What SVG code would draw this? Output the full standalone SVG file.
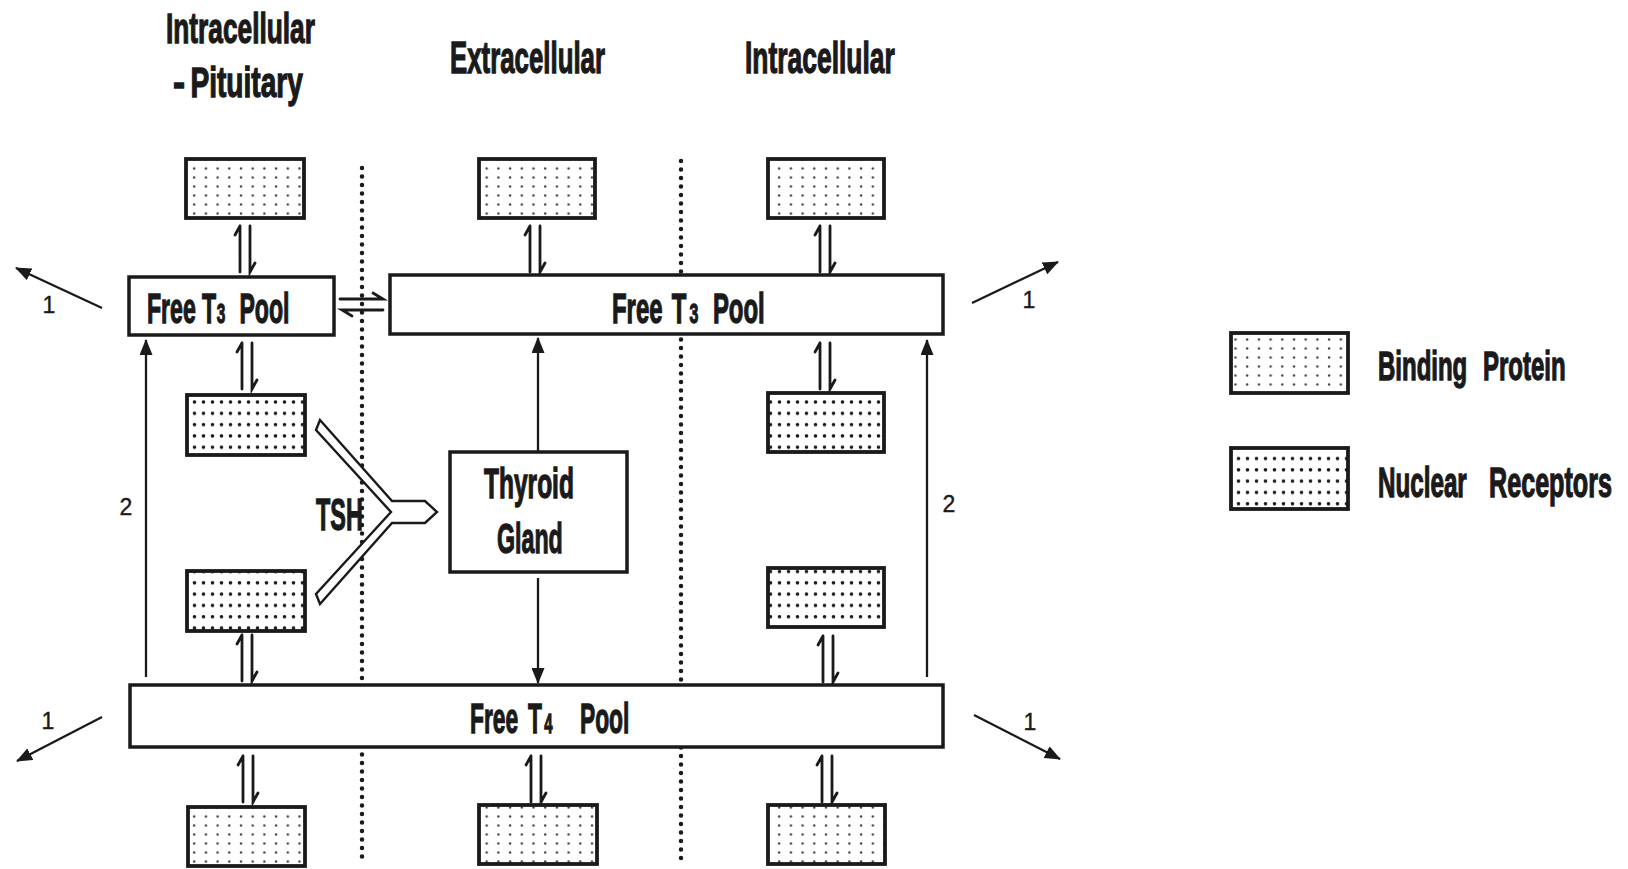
<svg xmlns="http://www.w3.org/2000/svg" xmlns:xlink="http://www.w3.org/1999/xlink" width="1628" height="869" viewBox="0 0 1628 869">
<style>
.t{font-family:"Liberation Sans",Arial,sans-serif;font-weight:bold;fill:#1a1a1a;stroke:#1a1a1a;stroke-width:1.3}
.n{font-family:"Liberation Sans",Arial,sans-serif;font-weight:normal;fill:#1a1a1a;font-size:23px;text-anchor:middle;stroke:#1a1a1a;stroke-width:0.4}
.box{fill:#fff;stroke:#1a1a1a;stroke-width:3.5}
.bp{fill:url(#bpDots);stroke:#1a1a1a;stroke-width:3.8}
.nr{fill:url(#nrDots);stroke:#1a1a1a;stroke-width:3.8}
.dot{stroke:#1a1a1a;stroke-width:4.5;stroke-linecap:round;stroke-dasharray:0 8.5;fill:none}
.ln{stroke:#1a1a1a;stroke-width:2.3;fill:none}
.eq{stroke:#1a1a1a;stroke-width:2.8;fill:none;stroke-linecap:round}
</style>
<defs>
<pattern id="bpDots" patternUnits="userSpaceOnUse" width="11.7" height="9" x="2" y="2">
<rect width="11.7" height="9" fill="#fff"/>
<circle cx="5" cy="4.5" r="1.2" fill="#444"/>
</pattern>
<pattern id="nrDots" patternUnits="userSpaceOnUse" width="9" height="11.3" x="1" y="1">
<rect width="9" height="11.3" fill="#fff"/>
<circle cx="4.5" cy="5.5" r="1.8" fill="#1a1a1a"/>
</pattern>
<marker id="ah" markerUnits="userSpaceOnUse" markerWidth="16" markerHeight="13" refX="15" refY="6.5" orient="auto">
<path d="M0,0 L16,6.5 L0,13 z" fill="#1a1a1a"/>
</marker>
<g id="eqv">
<path class="eq" d="M0,0 V46 M0,0 L-5,9 M10,0 V46 L15,37"/>
</g>
</defs>
<rect width="1628" height="869" fill="#fff"/>

<g id="boundaries">
<line class="dot" x1="362" y1="168" x2="362" y2="864"/>
<line class="dot" x1="681" y1="161" x2="681" y2="864"/>
</g>

<g id="titles">
<text class="t" font-size="42" transform="translate(166,43) scale(0.626,1)">Intracellular</text>
<text class="t" font-size="42" transform="translate(173,97) scale(0.67,1)"><tspan textLength="18" lengthAdjust="spacingAndGlyphs">-</tspan> <tspan x="26">Pituitary</tspan></text>
<text class="t" font-size="44" transform="translate(450,73) scale(0.587,1)">Extracellular</text>
<text class="t" font-size="44" transform="translate(745,73) scale(0.601,1)">Intracellular</text>
</g>

<g id="connectors">
<use href="#eqv" x="240" y="226"/>
<use href="#eqv" x="242" y="343"/>
<use href="#eqv" x="242" y="635"/>
<use href="#eqv" x="243" y="756"/>
<use href="#eqv" x="530" y="226"/>
<use href="#eqv" x="531" y="756"/>
<use href="#eqv" x="820" y="226"/>
<use href="#eqv" x="820" y="343"/>
<use href="#eqv" x="823" y="636"/>
<use href="#eqv" x="822" y="756"/>
<path class="eq" d="M340,299 H383 L373,293 M383,310 H342 L352,316"/>
<line class="ln" x1="146" y1="677" x2="146" y2="340" marker-end="url(#ah)"/>
<line class="ln" x1="927" y1="677" x2="927" y2="340" marker-end="url(#ah)"/>
<line class="ln" x1="538" y1="452" x2="538" y2="338" marker-end="url(#ah)"/>
<line class="ln" x1="538" y1="578" x2="538" y2="683" marker-end="url(#ah)"/>
<line class="ln" stroke-width="2.8" x1="102" y1="308" x2="16" y2="268" marker-end="url(#ah)"/>
<line class="ln" stroke-width="2.8" x1="972" y1="303" x2="1058" y2="262" marker-end="url(#ah)"/>
<line class="ln" stroke-width="2.8" x1="102" y1="717" x2="17" y2="761" marker-end="url(#ah)"/>
<line class="ln" stroke-width="2.8" x1="974" y1="715" x2="1060" y2="759" marker-end="url(#ah)"/>
<text class="n" x="126" y="515" font-size="24">2</text>
<text class="n" x="949" y="512" font-size="24">2</text>
<text class="n" x="49" y="313">1</text>
<text class="n" x="1029" y="308">1</text>
<text class="n" x="48" y="729">1</text>
<text class="n" x="1030" y="730">1</text>
</g>

<g id="tsh">
<polygon points="320,420 392,501 425,501 437,512 425,523 392,523 320,604 316,594 391,512 316,430" fill="#fff" stroke="#1a1a1a" stroke-width="2.4" stroke-linejoin="miter"/>
<text class="t" font-size="45" transform="translate(316,530) scale(0.52,1)">TSH</text>
</g>

<g id="bp-top-left"><rect class="bp" x="186" y="159" width="118" height="59"/></g>
<g id="bp-top-mid"><rect class="bp" x="479" y="159" width="116" height="59"/></g>
<g id="bp-top-right"><rect class="bp" x="768" y="159" width="116" height="59"/></g>

<g id="free-t3-pituitary">
<rect class="box" x="129" y="277" width="205" height="58"/>
<text class="t" font-size="42" transform="translate(147,323) scale(0.55,1)">Free <tspan x="100">T</tspan><tspan x="127" font-size="28">3</tspan> <tspan x="168">Pool</tspan></text>
</g>

<g id="free-t3-pool">
<rect class="box" x="390" y="275" width="553" height="59"/>
<text class="t" font-size="42" transform="translate(612,323) scale(0.57,1)">Free <tspan x="105">T</tspan><tspan x="136" font-size="28">3</tspan> <tspan x="177">Pool</tspan></text>
</g>

<g id="nr-left-upper"><rect class="nr" x="187" y="395" width="118" height="60"/></g>
<g id="nr-left-lower"><rect class="nr" x="187" y="571" width="118" height="60"/></g>
<g id="nr-right-upper"><rect class="nr" x="768" y="393" width="116" height="59"/></g>
<g id="nr-right-lower"><rect class="nr" x="768" y="568" width="116" height="59"/></g>

<g id="thyroid-gland">
<rect class="box" x="450" y="452" width="177" height="120"/>
<text class="t" font-size="42" transform="translate(484,498) scale(0.584,1)">Thyroid</text>
<text class="t" font-size="43" transform="translate(497,553) scale(0.54,1)">Gland</text>
</g>

<g id="free-t4-pool">
<rect class="box" x="130" y="685" width="813" height="62"/>
<text class="t" font-size="43" transform="translate(470,733) scale(0.53,1)">Free <tspan x="109.4">T</tspan><tspan x="140" font-size="28">4</tspan> <tspan x="207.5">Pool</tspan></text>
</g>

<g id="bp-bottom-left"><rect class="bp" x="188" y="807" width="117" height="59"/></g>
<g id="bp-bottom-mid"><rect class="bp" x="479" y="805" width="118" height="59"/></g>
<g id="bp-bottom-right"><rect class="bp" x="768" y="805" width="117" height="59"/></g>

<g id="legend">
<g id="legend-binding-protein">
<rect class="bp" x="1231" y="333" width="117" height="60"/>
<text class="t" font-size="40" transform="translate(1378,380) scale(0.6,1)">Binding <tspan x="175">Protein</tspan></text>
</g>
<g id="legend-nuclear-receptors">
<rect class="nr" x="1231" y="448" width="117" height="61"/>
<text class="t" font-size="42" transform="translate(1378,497) scale(0.6,1)"><tspan textLength="148" lengthAdjust="spacingAndGlyphs">Nuclear</tspan> <tspan x="185" textLength="205" lengthAdjust="spacingAndGlyphs">Receptors</tspan></text>
</g>
</g>
</svg>
